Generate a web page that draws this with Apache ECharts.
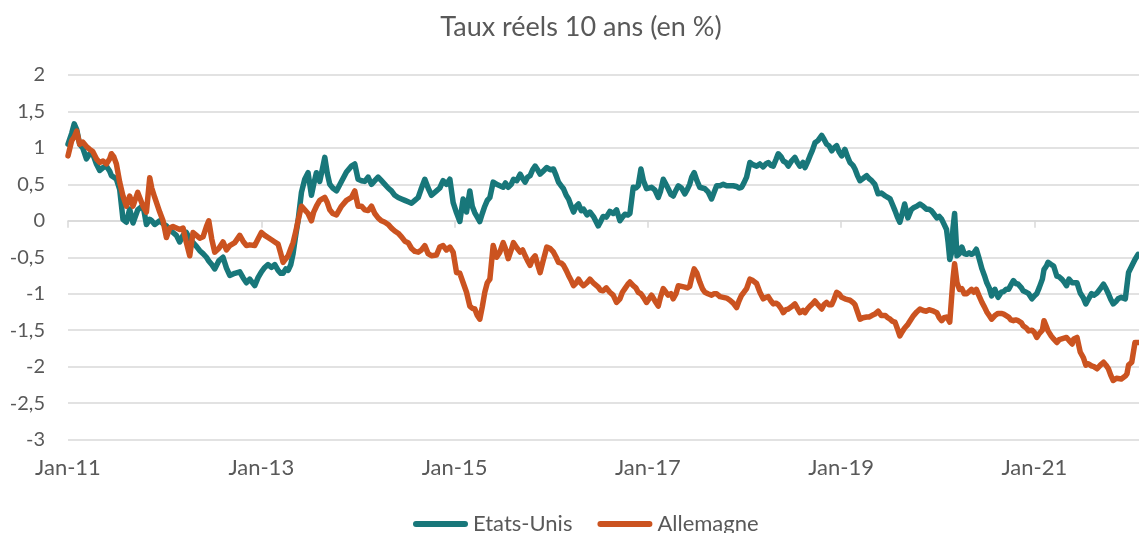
<!DOCTYPE html>
<html>
<head>
<meta charset="utf-8">
<script src="https://cdn.jsdelivr.net/npm/echarts@6/dist/echarts.min.js"></script>
<style>
  html, body { margin: 0; padding: 0; background: #fff; }
  #chart { width: 1139px; height: 533px; }
</style>
</head>
<body>
<div id="chart"></div>
<script>
// months counted from Jan 2011
var monthsSinceJan11 = [
  0, 0.46, 0.77, 1.08, 1.45, 1.83, 2.29, 2.7, 3.07, 3.53,
  3.94, 4.35, 4.77, 5.18, 5.39, 5.68, 6.01, 6.42, 6.83, 7.25,
  7.66, 8.07, 8.66, 9.32, 9.74, 10.15, 10.4, 10.77, 11.39, 11.8,
  12.22, 12.63, 13.04, 13.46, 13.87, 14.29, 14.7, 15.12, 15.53, 15.95,
  16.36, 16.77, 17.19, 17.48, 17.85, 18.22, 18.72, 19.25, 19.68, 20.09,
  20.71, 21.33, 21.74, 22.16, 22.57, 23.19, 23.6, 24.02, 24.43, 24.84,
  25.27, 25.68, 26.09, 26.42, 26.71, 27.05, 27.34, 27.67, 27.95, 28.28,
  28.57, 28.99, 29.4, 29.81, 30.23, 30.51, 30.85, 31.26, 31.57, 31.89,
  32.2, 32.51, 32.88, 33.34, 33.96, 34.58, 35.2, 35.61, 36.02, 36.45,
  36.86, 37.27, 37.69, 38.1, 38.51, 38.93, 39.35, 39.76, 40.17, 40.58,
  41.0, 41.42, 41.83, 42.24, 42.66, 43.07, 43.49, 43.9, 44.31, 44.72,
  45.14, 45.76, 46.17, 46.58, 47.0, 47.42, 47.83, 48.25, 48.66, 49.07,
  49.49, 49.9, 50.2, 50.52, 50.83, 51.14, 51.45, 51.76, 52.07, 52.39,
  52.8, 53.22, 53.63, 54.04, 54.32, 54.67, 55.04, 55.32, 55.73, 56.15,
  56.46, 56.77, 57.08, 57.39, 57.7, 58.01, 58.32, 58.63, 59.0, 59.46,
  59.88, 60.29, 60.62, 60.91, 61.25, 61.53, 61.87, 62.16, 62.49, 62.78,
  63.12, 63.4, 63.74, 64.02, 64.45, 64.81, 65.3, 65.85, 66.1, 66.45,
  66.85, 67.29, 67.7, 68.12, 68.54, 68.85, 69.16, 69.53, 69.78, 70.19,
  70.52, 70.81, 71.15, 71.46, 71.85, 72.47, 72.89, 73.3, 73.57, 73.92,
  74.25, 74.54, 74.88, 75.16, 75.5, 75.79, 76.18, 76.6, 76.91, 77.2,
  77.46, 77.76, 78.1, 78.46, 78.78, 79.09, 79.47, 79.92, 80.2, 80.55,
  80.96, 81.37, 81.79, 82.2, 82.61, 83.03, 83.32, 83.65, 83.94, 84.27,
  84.68, 85.05, 85.51, 85.92, 86.33, 86.67, 86.96, 87.3, 87.58, 87.92,
  88.2, 88.54, 88.83, 89.16, 89.45, 89.84, 90.27, 90.58, 90.89, 91.27,
  91.52, 91.89, 92.14, 92.45, 92.76, 93.13, 93.6, 93.88, 94.21, 94.5,
  94.84, 95.12, 95.46, 95.74, 96.07, 96.48, 96.8, 97.11, 97.48, 97.73,
  98.04, 98.35, 98.72, 99.18, 99.47, 99.81, 100.2, 100.6, 101.0, 101.5,
  101.8, 102.1, 102.4, 102.7, 103.0, 103.3, 103.6, 103.9, 104.3, 104.7,
  105.0, 105.4, 105.8, 106.2, 106.6, 106.9, 107.2, 107.5, 107.9, 108.2,
  108.5, 108.8, 109.1, 109.3, 109.5, 109.7, 109.9, 110.1, 110.4, 110.7,
  111.0, 111.3, 111.6, 111.9, 112.2, 112.5, 112.8, 113.1, 113.5, 113.8,
  114.1, 114.4, 114.7, 115.1, 115.5, 115.9, 116.2, 116.5, 116.8, 117.1,
  117.4, 117.7, 118.0, 118.4, 118.6, 119.0, 119.3, 119.7, 120.0, 120.3,
  120.6, 121.0, 121.2, 121.5, 121.7, 122.1, 122.4, 122.8, 123.1, 123.4,
  123.7, 124.0, 124.3, 124.7, 124.9, 125.3, 125.7, 126.1, 126.4, 126.7,
  127.1, 127.4, 127.8, 128.2, 128.6, 128.9, 129.2, 129.5, 129.8, 130.2,
  130.4, 130.8, 131.0, 131.3, 131.5, 131.7, 132.1, 132.5, 132.9
];

var etatsUnis = [
  1.05, 1.2, 1.33, 1.25, 1.05, 1.0, 0.85, 0.92, 0.92, 0.78,
  0.69, 0.73, 0.75, 0.68, 0.62, 0.6, 0.57, 0.43, 0.02, -0.02,
  0.16, -0.03, 0.15, 0.21, -0.05, 0.02, 0.0, -0.05, 0.0, -0.04,
  -0.07, -0.12, -0.16, -0.2, -0.29, -0.2, -0.16, -0.25, -0.3, -0.35,
  -0.41, -0.45, -0.5, -0.55, -0.6, -0.66, -0.55, -0.5, -0.65, -0.75,
  -0.72, -0.7, -0.78, -0.85, -0.8, -0.89, -0.78, -0.7, -0.64, -0.6,
  -0.64, -0.6, -0.68, -0.72, -0.72, -0.66, -0.68, -0.6, -0.45, -0.2,
  0.0, 0.39, 0.57, 0.66, 0.35, 0.5, 0.66, 0.54, 0.7, 0.87,
  0.65, 0.5, 0.45, 0.41, 0.54, 0.67, 0.75, 0.78, 0.57, 0.55,
  0.54, 0.6, 0.5, 0.55, 0.6, 0.55, 0.5, 0.45, 0.41, 0.35,
  0.32, 0.3, 0.28, 0.26, 0.24, 0.28, 0.32, 0.45, 0.57, 0.45,
  0.35, 0.41, 0.45, 0.55, 0.5, 0.57, 0.25, 0.11, -0.01, 0.3,
  0.12, 0.41, 0.2, 0.11, 0.05, -0.01, 0.1, 0.2, 0.28, 0.32,
  0.53, 0.5, 0.48, 0.46, 0.52, 0.46, 0.5, 0.57, 0.55, 0.64,
  0.58, 0.53, 0.6, 0.62, 0.7, 0.75, 0.7, 0.64, 0.68, 0.73,
  0.7, 0.71, 0.62, 0.53, 0.48, 0.44, 0.35, 0.3, 0.2, 0.12,
  0.2, 0.23, 0.14, 0.16, 0.08, 0.12, 0.05, -0.07, -0.02, 0.06,
  0.05, 0.13, 0.1, 0.15, 0.0, 0.05, 0.09, 0.08, 0.1, 0.46,
  0.45, 0.48, 0.71, 0.55, 0.44, 0.46, 0.42, 0.32, 0.4, 0.57,
  0.5, 0.44, 0.36, 0.34, 0.42, 0.48, 0.45, 0.37, 0.43, 0.5,
  0.6, 0.66, 0.55, 0.46, 0.45, 0.44, 0.4, 0.3, 0.38, 0.48,
  0.48, 0.5, 0.48, 0.48, 0.48, 0.47, 0.45, 0.46, 0.52, 0.6,
  0.8, 0.77, 0.75, 0.78, 0.74, 0.78, 0.8, 0.76, 0.75, 0.84,
  0.92, 0.88, 0.82, 0.8, 0.75, 0.82, 0.87, 0.8, 0.75, 0.8,
  0.73, 0.82, 0.89, 0.97, 1.07, 1.1, 1.17, 1.12, 1.05, 1.03,
  0.96, 1.0, 1.03, 0.95, 0.89, 0.98, 0.88, 0.8, 0.76, 0.71,
  0.62, 0.55, 0.58, 0.62, 0.58, 0.55, 0.5, 0.37, 0.38, 0.34,
  0.32, 0.3, 0.22, 0.14, 0.05, -0.02, 0.1, 0.23, 0.04, 0.15,
  0.18, 0.2, 0.23, 0.2, 0.16, 0.16, 0.14, 0.1, 0.04, 0.06,
  0.02, -0.05, -0.12, -0.3, -0.53, -0.45, -0.1, 0.1, -0.48, -0.45,
  -0.36, -0.45, -0.46, -0.44, -0.46, -0.44, -0.39, -0.5, -0.66, -0.75,
  -0.85, -0.92, -1.03, -0.94, -1.05, -0.98, -0.97, -0.94, -0.94, -0.88,
  -0.82, -0.86, -0.87, -0.92, -0.96, -0.98, -1.0, -1.07, -1.03, -1.0,
  -0.92, -0.8, -0.67, -0.62, -0.57, -0.6, -0.62, -0.76, -0.77, -0.8,
  -0.84, -0.89, -0.8, -0.85, -0.83, -0.85, -0.99, -1.06, -1.14, -1.08,
  -1.0, -1.02, -0.99, -0.93, -0.87, -0.93, -1.0, -1.08, -1.14, -1.1,
  -1.07, -1.05, -1.03, -1.07, -1.07, -0.71, -0.62, -0.53, -0.46
];

var allemagne = [
  0.89, 1.1, 1.15, 1.23, 1.05, 1.08, 1.02, 0.98, 0.95, 0.85,
  0.8, 0.82, 0.78, 0.85, 0.92, 0.88, 0.78, 0.53, 0.34, 0.2,
  0.34, 0.2, 0.39, 0.2, 0.12, 0.59, 0.45, 0.32, 0.12, 0.0,
  -0.23, -0.1, -0.08, -0.1, -0.12, -0.1, -0.3, -0.48, -0.16, -0.2,
  -0.24, -0.22, -0.08, 0.0, -0.25, -0.43, -0.38, -0.29, -0.4, -0.34,
  -0.3, -0.2, -0.28, -0.34, -0.33, -0.34, -0.25, -0.16, -0.2, -0.23,
  -0.26, -0.29, -0.32, -0.45, -0.57, -0.52, -0.48, -0.38, -0.3, -0.15,
  0.0, 0.2, 0.15, 0.1, 0.0, 0.12, 0.2, 0.28, 0.3, 0.32,
  0.25, 0.15, 0.1, 0.08, 0.2, 0.28, 0.32, 0.41, 0.2, 0.2,
  0.15, 0.14, 0.2, 0.1, 0.04, 0.0, -0.02, -0.05, -0.1, -0.14,
  -0.17, -0.22, -0.28, -0.3, -0.38, -0.42, -0.43, -0.4, -0.34, -0.45,
  -0.48, -0.47, -0.36, -0.34, -0.4, -0.36, -0.43, -0.71, -0.72, -0.85,
  -0.98, -1.17, -1.2, -1.21, -1.3, -1.35, -1.18, -0.98, -0.85, -0.8,
  -0.34, -0.5, -0.43, -0.3, -0.38, -0.52, -0.4, -0.3, -0.37, -0.43,
  -0.4, -0.48, -0.55, -0.61, -0.52, -0.48, -0.6, -0.71, -0.55, -0.36,
  -0.38, -0.43, -0.5, -0.57, -0.58, -0.61, -0.68, -0.75, -0.82, -0.89,
  -0.85, -0.8, -0.86, -0.89, -0.85, -0.8, -0.86, -0.91, -0.95, -0.96,
  -0.92, -0.98, -1.02, -1.12, -1.07, -0.98, -0.93, -0.87, -0.84, -0.89,
  -0.92, -0.98, -1.0, -1.05, -1.12, -1.02, -1.1, -1.17, -1.05, -0.93,
  -0.98, -1.02, -1.0, -1.07, -1.0, -0.89, -0.9, -0.91, -0.92, -0.9,
  -0.78, -0.66, -0.72, -0.84, -0.93, -0.98, -1.0, -1.02, -1.0, -1.0,
  -1.04, -1.05, -1.06, -1.09, -1.13, -1.19, -1.1, -1.02, -0.98, -0.93,
  -0.8, -0.82, -0.86, -0.98, -1.07, -1.05, -1.04, -1.1, -1.14, -1.13,
  -1.15, -1.2, -1.26, -1.22, -1.21, -1.18, -1.14, -1.2, -1.26, -1.23,
  -1.26, -1.2, -1.17, -1.14, -1.1, -1.15, -1.21, -1.15, -1.12, -1.15,
  -1.15, -1.08, -0.98, -1.0, -1.05, -1.07, -1.08, -1.09, -1.12, -1.15,
  -1.25, -1.35, -1.33, -1.32, -1.32, -1.3, -1.28, -1.24, -1.3, -1.3,
  -1.33, -1.35, -1.38, -1.39, -1.48, -1.58, -1.52, -1.47, -1.42, -1.35,
  -1.3, -1.25, -1.21, -1.23, -1.24, -1.22, -1.23, -1.24, -1.26, -1.33,
  -1.37, -1.33, -1.32, -1.35, -1.39, -1.38, -0.8, -0.59, -0.85, -0.94,
  -0.93, -1.0, -1.0, -0.97, -0.94, -0.98, -0.94, -1.02, -1.12, -1.18,
  -1.25, -1.3, -1.35, -1.3, -1.27, -1.27, -1.28, -1.3, -1.32, -1.36,
  -1.37, -1.36, -1.37, -1.4, -1.44, -1.47, -1.51, -1.5, -1.53, -1.6,
  -1.55, -1.5, -1.37, -1.45, -1.51, -1.58, -1.62, -1.67, -1.63, -1.62,
  -1.61, -1.6, -1.64, -1.69, -1.62, -1.6, -1.8, -1.88, -1.98, -1.96,
  -1.99, -2.0, -2.03, -1.98, -1.94, -1.98, -2.03, -2.12, -2.19, -2.16,
  -2.15, -2.17, -2.17, -2.13, -2.1, -1.98, -1.94, -1.67, -1.67
];

var yearTicks = [0, 24, 48, 72, 96, 120];
var yearLabels = ['Jan-11', 'Jan-13', 'Jan-15', 'Jan-17', 'Jan-19', 'Jan-21'];

function toPoints(values) {
  return monthsSinceJan11.map(function(m, i) { return [m, values[i]]; });
}

(function() {
  var myChart = echarts.init(document.getElementById('chart'));
  var font = 'Lato, "Open Sans", sans-serif';
  var grey = '#595959';
  var gridGrey = '#d9d9d9';
  var pill = 'path://M3,0 L52,0 A3,3 0 0 1 52,6 L3,6 A3,3 0 0 1 3,0 Z';

  var option = {
    animation: false,
    // title, centred on x = 581
    graphic: [{
      type: 'text',
      x: 581,
      y: 27,
      style: {
        text: 'Taux réels 10 ans (en %)',
        align: 'center',
        verticalAlign: 'middle',
        font: '27px ' + font,
        fill: grey
      }
    }],
    legend: {
      data: ['Etats-Unis', 'Allemagne'],
      left: 408,
      top: 508,
      icon: pill,
      itemWidth: 55,
      itemHeight: 6,
      itemGap: 25,
      textStyle: { fontFamily: font, fontSize: 22, color: grey }
    },
    grid: { left: 68, right: 0, top: 75, bottom: 93.5 },
    xAxis: [
      {
        // axis line at zero with tick marks
        type: 'value',
        position: 'top',
        min: 0,
        max: 133,
        axisLine: { onZero: true, lineStyle: { color: gridGrey, width: 1.5 } },
        axisTick: { inside: true, length: 7, customValues: yearTicks, lineStyle: { color: gridGrey, width: 1.5 } },
        axisLabel: { show: false },
        splitLine: { show: false }
      },
      {
        // labels at the bottom
        type: 'value',
        position: 'bottom',
        min: 0,
        max: 133,
        axisLine: { show: false, onZero: false },
        axisTick: { show: false },
        axisLabel: {
          customValues: yearTicks,
          margin: 17,
          fontFamily: font,
          fontSize: 22,
          color: grey,
          formatter: function(v) { return yearLabels[yearTicks.indexOf(v)] || ''; }
        },
        splitLine: { show: false }
      }
    ],
    yAxis: {
      type: 'value',
      min: -3,
      max: 2,
      interval: 0.5,
      axisLine: { show: false },
      axisTick: { show: false },
      splitLine: { lineStyle: { color: gridGrey, width: 1.5 } },
      axisLabel: {
        margin: 23,
        fontFamily: font,
        fontSize: 20,
        color: grey,
        formatter: function(v) { return String(v).replace('.', ','); }
      }
    },
    series: [
      {
        name: 'Etats-Unis',
        type: 'line',
        xAxisIndex: 0,
        showSymbol: false,
        color: '#18777a',
        lineStyle: { width: 5.5, cap: 'round', join: 'round' },
        data: toPoints(etatsUnis)
      },
      {
        name: 'Allemagne',
        type: 'line',
        xAxisIndex: 0,
        showSymbol: false,
        color: '#cb5320',
        lineStyle: { width: 5.5, cap: 'round', join: 'round' },
        data: toPoints(allemagne)
      }
    ]
  };

  myChart.setOption(option);
  window.addEventListener('resize', function() {
    myChart.resize();
  });
})();
</script>
</body>
</html>
